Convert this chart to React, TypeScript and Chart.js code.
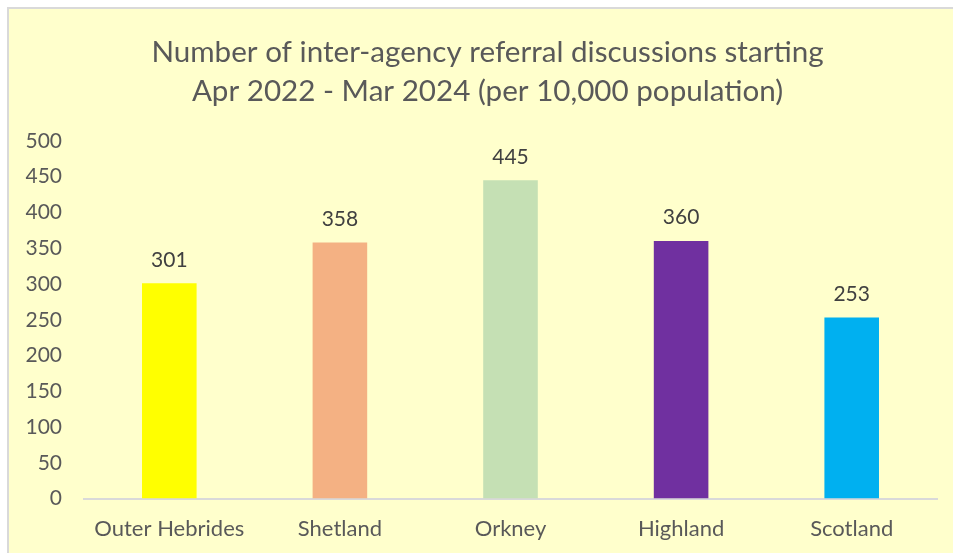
import React, { useEffect, useRef } from "react";
import { Chart, registerables } from "chart.js";

Chart.register(...registerables);

const categories = ["Outer Hebrides", "Shetland", "Orkney", "Highland", "Scotland"];
const values = [301, 358, 445, 360, 253];
const barColors = ["#FFFF00", "#F4B183", "#C5E0B4", "#7030A0", "#00B0F0"];
const titleLines = [
  "Number of inter-agency referral discussions starting",
  "Apr 2022 - Mar 2024 (per 10,000 population)",
];

const FONT = "Lato, 'Open Sans', sans-serif";

const valueLabels = {
  id: "valueLabels",
  afterDatasetsDraw(chart: any) {
    const ctx = chart.ctx;
    const meta = chart.getDatasetMeta(0);
    ctx.save();
    ctx.font = `21px ${FONT}`;
    ctx.fillStyle = "#404040";
    ctx.textAlign = "center";
    ctx.textBaseline = "bottom";
    meta.data.forEach((bar: any, i: number) => {
      ctx.fillText(String(values[i]), bar.x, bar.y - 13);
    });
    ctx.restore();
  },
};

export default function App() {
  const ref = useRef<HTMLCanvasElement>(null);
  useEffect(() => {
    if (!ref.current) return;
    const chart = new Chart(ref.current, {
      type: "bar",
      data: {
        labels: categories,
        datasets: [
          {
            data: values,
            backgroundColor: barColors,
            barPercentage: 0.32,
            categoryPercentage: 1,
          },
        ],
      },
      options: {
        responsive: false,
        animation: false,
        layout: { padding: { left: 0, right: 0, top: 23, bottom: 0 } },
        plugins: {
          legend: { display: false },
          tooltip: { enabled: false },
          title: {
            display: true,
            text: titleLines,
            color: "#595959",
            font: { family: FONT, size: 29.6, weight: "normal", lineHeight: 1.35 },
            padding: { top: 0, bottom: 29 },
          },
        },
        scales: {
          x: {
            grid: { display: false, drawTicks: false },
            border: { display: true, color: "#D9D9D9", width: 2 },
            ticks: { color: "#595959", font: { family: FONT, size: 22 }, padding: 17 },
          },
          y: {
            min: 0,
            max: 500,
            afterFit(scale: any) {
              scale.width = 75;
            },
            grid: { display: false, drawTicks: false },
            border: { display: false },
            ticks: { stepSize: 50, color: "#595959", font: { family: FONT, size: 21 }, padding: 22 },
          },
          yRight: {
            position: "right",
            display: true,
            afterFit(scale: any) {
              scale.width = 29;
            },
            grid: { display: false, drawTicks: false },
            border: { display: false },
            ticks: { display: false },
          },
        },
      },
      plugins: [valueLabels],
    });
    return () => chart.destroy();
  }, []);
  return (
    <div
      style={{
        position: "fixed",
        left: 7,
        top: 7,
        width: 957,
        height: 550,
        border: "2px solid #D9D9D9",
        background: "#FFFFCC",
      }}
    >
      <canvas ref={ref} width={957} height={550} style={{ display: "block" }} />
    </div>
  );
}
